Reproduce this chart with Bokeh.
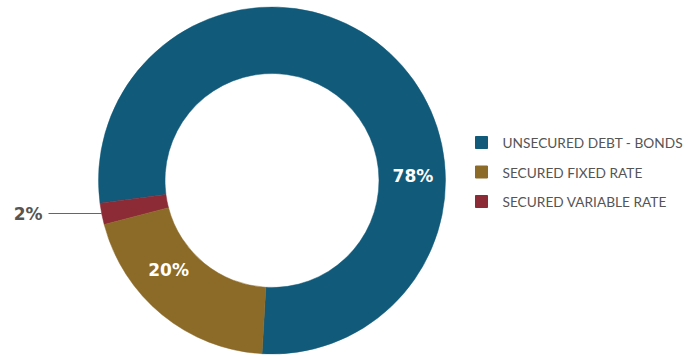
import math
from bokeh.plotting import figure
from bokeh.models import Range1d
from bokeh.core.properties import value
from bokeh.embed import file_html
from bokeh.resources import INLINE

categories = ["UNSECURED DEBT - BONDS", "SECURED VARIABLE RATE", "SECURED FIXED RATE"]
values = [78, 2, 20]
colors = ["#115a7a", "#8c2b36", "#8c6a28"]
labels = ["78%", "2%", "20%"]
legend_order = ["UNSECURED DEBT - BONDS", "SECURED FIXED RATE", "SECURED VARIABLE RATE"]

W, H = 700, 356
p = figure(width=W, height=H, x_range=Range1d(0, W), y_range=Range1d(0, H),
           output_backend="svg", toolbar_location=None, min_border=0)
p.axis.visible = False
p.grid.visible = False
p.outline_line_color = None
p.background_fill_color = "white"

cx, cy = 271.5, H - 180
r_in, r_out = 107, 173.5
start = math.radians(-93.3)
total = sum(values)
a = start
mids = []
for v, c in zip(values, colors):
    span = 2 * math.pi * v / total
    p.annular_wedge(x=cx, y=cy, inner_radius=r_in, outer_radius=r_out,
                    start_angle=a, end_angle=a + span, color=c, line_color=c, line_width=0.5)
    mids.append(a + span / 2)
    a += span

pfont = value("DejaVu Sans")
# 78% label
ang78, r78 = math.radians(2), 141
p.text(x=[cx + r78 * math.cos(ang78)], y=[cy + r78 * math.sin(ang78)],
       text=[labels[0]], text_color="white", text_font=pfont, text_font_style="bold",
       text_font_size="17px", text_align="center", text_baseline="middle")
# 20% label
ang20, r20 = math.radians(221), 137
p.text(x=[cx + r20 * math.cos(ang20)], y=[cy + r20 * math.sin(ang20)],
       text=[labels[2]], text_color="white", text_font=pfont, text_font_style="bold",
       text_font_size="17px", text_align="center", text_baseline="middle")
# 2% callout
p.line(x=[48, cx + r_out * math.cos(mids[1])], y=[H - 213, H - 213], line_color="#666666", line_width=1)
p.text(x=[42], y=[H - 213], text=[labels[1]], text_color="#555555", text_font=pfont,
       text_font_style="bold", text_font_size="17px", text_align="right", text_baseline="middle")

# legend
lx, ly0, dy = 481, 142, 29.5
for i, name in enumerate(legend_order):
    c = colors[categories.index(name)]
    y = H - (ly0 + i * dy)
    p.rect(x=[lx], y=[y], width=12, height=12, color=c)
    p.text(x=[502], y=[y], text=[name], text_color="#555555", text_font=value("Lato"),
           text_font_size="13.7px", text_baseline="middle", text_align="left")

open("out.html", "w").write(file_html(p, INLINE))
